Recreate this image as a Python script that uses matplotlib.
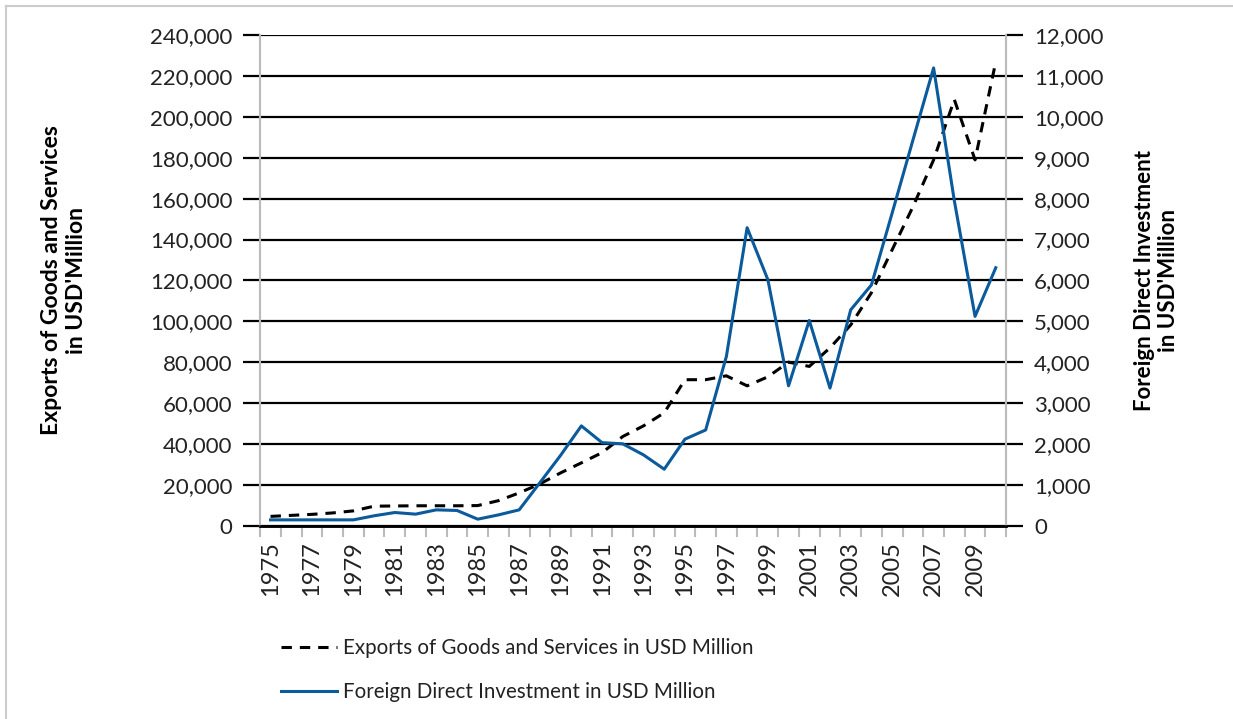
import matplotlib.pyplot as plt
from matplotlib.lines import Line2D
from matplotlib.ticker import FuncFormatter, MultipleLocator

plt.rcParams['font.family'] = ['Lato', 'DejaVu Sans']

years = list(range(1975, 2011))

# Exports of goods and services, USD million (left axis)
exports = [4500, 5000, 5500, 6200, 7200, 9500, 9600, 9700, 9700, 9700,
           9800, 12200, 16000, 20400, 25800, 30700, 35700, 43600, 48800, 55200,
           71400, 71400, 73300, 68400, 72800, 80000, 77900, 87000, 98200, 114000,
           135000, 156000, 179000, 208500, 179000, 227000]

# Foreign direct investment, USD million (right axis)
fdi = [140, 140, 140, 140, 140, 240, 320, 280, 385, 370,
       157, 262, 385, 1050, 1720, 2440, 2030, 2000, 1730, 1380,
       2115, 2340, 4140, 7290, 6020, 3420, 5020, 3365, 5280, 5890,
       7650, 9430, 11200, 7950, 5120, 6310]

fig = plt.figure(figsize=(12.33, 7.19), dpi=100)
ax = fig.add_axes([0.211, 0.269, 0.605, 0.682])
ax2 = ax.twinx()

x = list(range(len(years)))
ax.plot(x, exports, color='black', lw=2.2, ls=(0, (3.4, 2.6)), zorder=3)
ax2.plot(x, fdi, color='#0a5a9c', lw=2.2, zorder=3)

ax.set_xlim(-0.5, len(years) - 0.5)
ax.set_ylim(0, 240000)
ax2.set_ylim(0, 12000)
ax.yaxis.set_major_locator(MultipleLocator(20000))
ax2.yaxis.set_major_locator(MultipleLocator(1000))
fmt = FuncFormatter(lambda v, p: f'{int(v):,}')
ax.yaxis.set_major_formatter(fmt)
ax2.yaxis.set_major_formatter(fmt)

ax.grid(axis='y', color='black', lw=1.6)
ax.set_axisbelow(True)

# year labels sit between the tick marks
ax.set_xticks(x[::2])
ax.set_xticklabels([str(y) for y in years[::2]], rotation=90)
ax.set_xticks([i - 0.5 for i in range(len(years) + 1)], minor=True)
ax.tick_params(axis='x', which='major', length=0, pad=11, labelsize=17, labelcolor='#222222')
ax.tick_params(axis='x', which='minor', length=8, width=1.5, color='#bbbbbb')

ax.tick_params(axis='y', length=12, width=1.6, color='black', pad=8, labelsize=16, labelcolor='#222222')
ax2.tick_params(axis='y', length=12, width=1.6, color='black', pad=8, labelsize=16, labelcolor='#222222')

for a in (ax, ax2):
    a.spines['top'].set_visible(False)
    a.spines['left'].set_color('#bbbbbb')
    a.spines['right'].set_color('#bbbbbb')
    a.spines['left'].set_linewidth(1.5)
    a.spines['right'].set_linewidth(1.5)
    a.spines['bottom'].set_color('black')
    a.spines['bottom'].set_linewidth(1.8)

fig.text(0.052, 0.61, "Exports of Goods and Services\nin USD'Million", rotation=90,
         ha='center', va='center', fontsize=16.5, fontweight='bold', linespacing=1.2)
fig.text(0.938, 0.61, "Foreign Direct Investment\nin USD'Million", rotation=90,
         ha='center', va='center', fontsize=16, fontweight='bold', linespacing=1.2)

handles = [Line2D([], [], color='black', lw=2.2, ls=(0, (3.4, 2.6))),
           Line2D([], [], color='#0a5a9c', lw=2.2)]
labels = ['Exports of Goods and Services in USD Million',
          'Foreign Direct Investment in USD Million']
fig.legend(handles, labels, loc='upper left', bbox_to_anchor=(0.213, 0.138),
           frameon=False, fontsize=14.8, handlelength=2.7, handletextpad=0.3,
           labelspacing=1.15, labelcolor='#222222')

# outer frame (only top and left edges visible in the reference)
fig.add_artist(Line2D([0.005, 1.0], [0.991, 0.991], color='#cccccc', lw=1.5))
fig.add_artist(Line2D([0.005, 0.005], [0.0, 0.991], color='#cccccc', lw=1.5))

fig.savefig('out.png', dpi=100)
